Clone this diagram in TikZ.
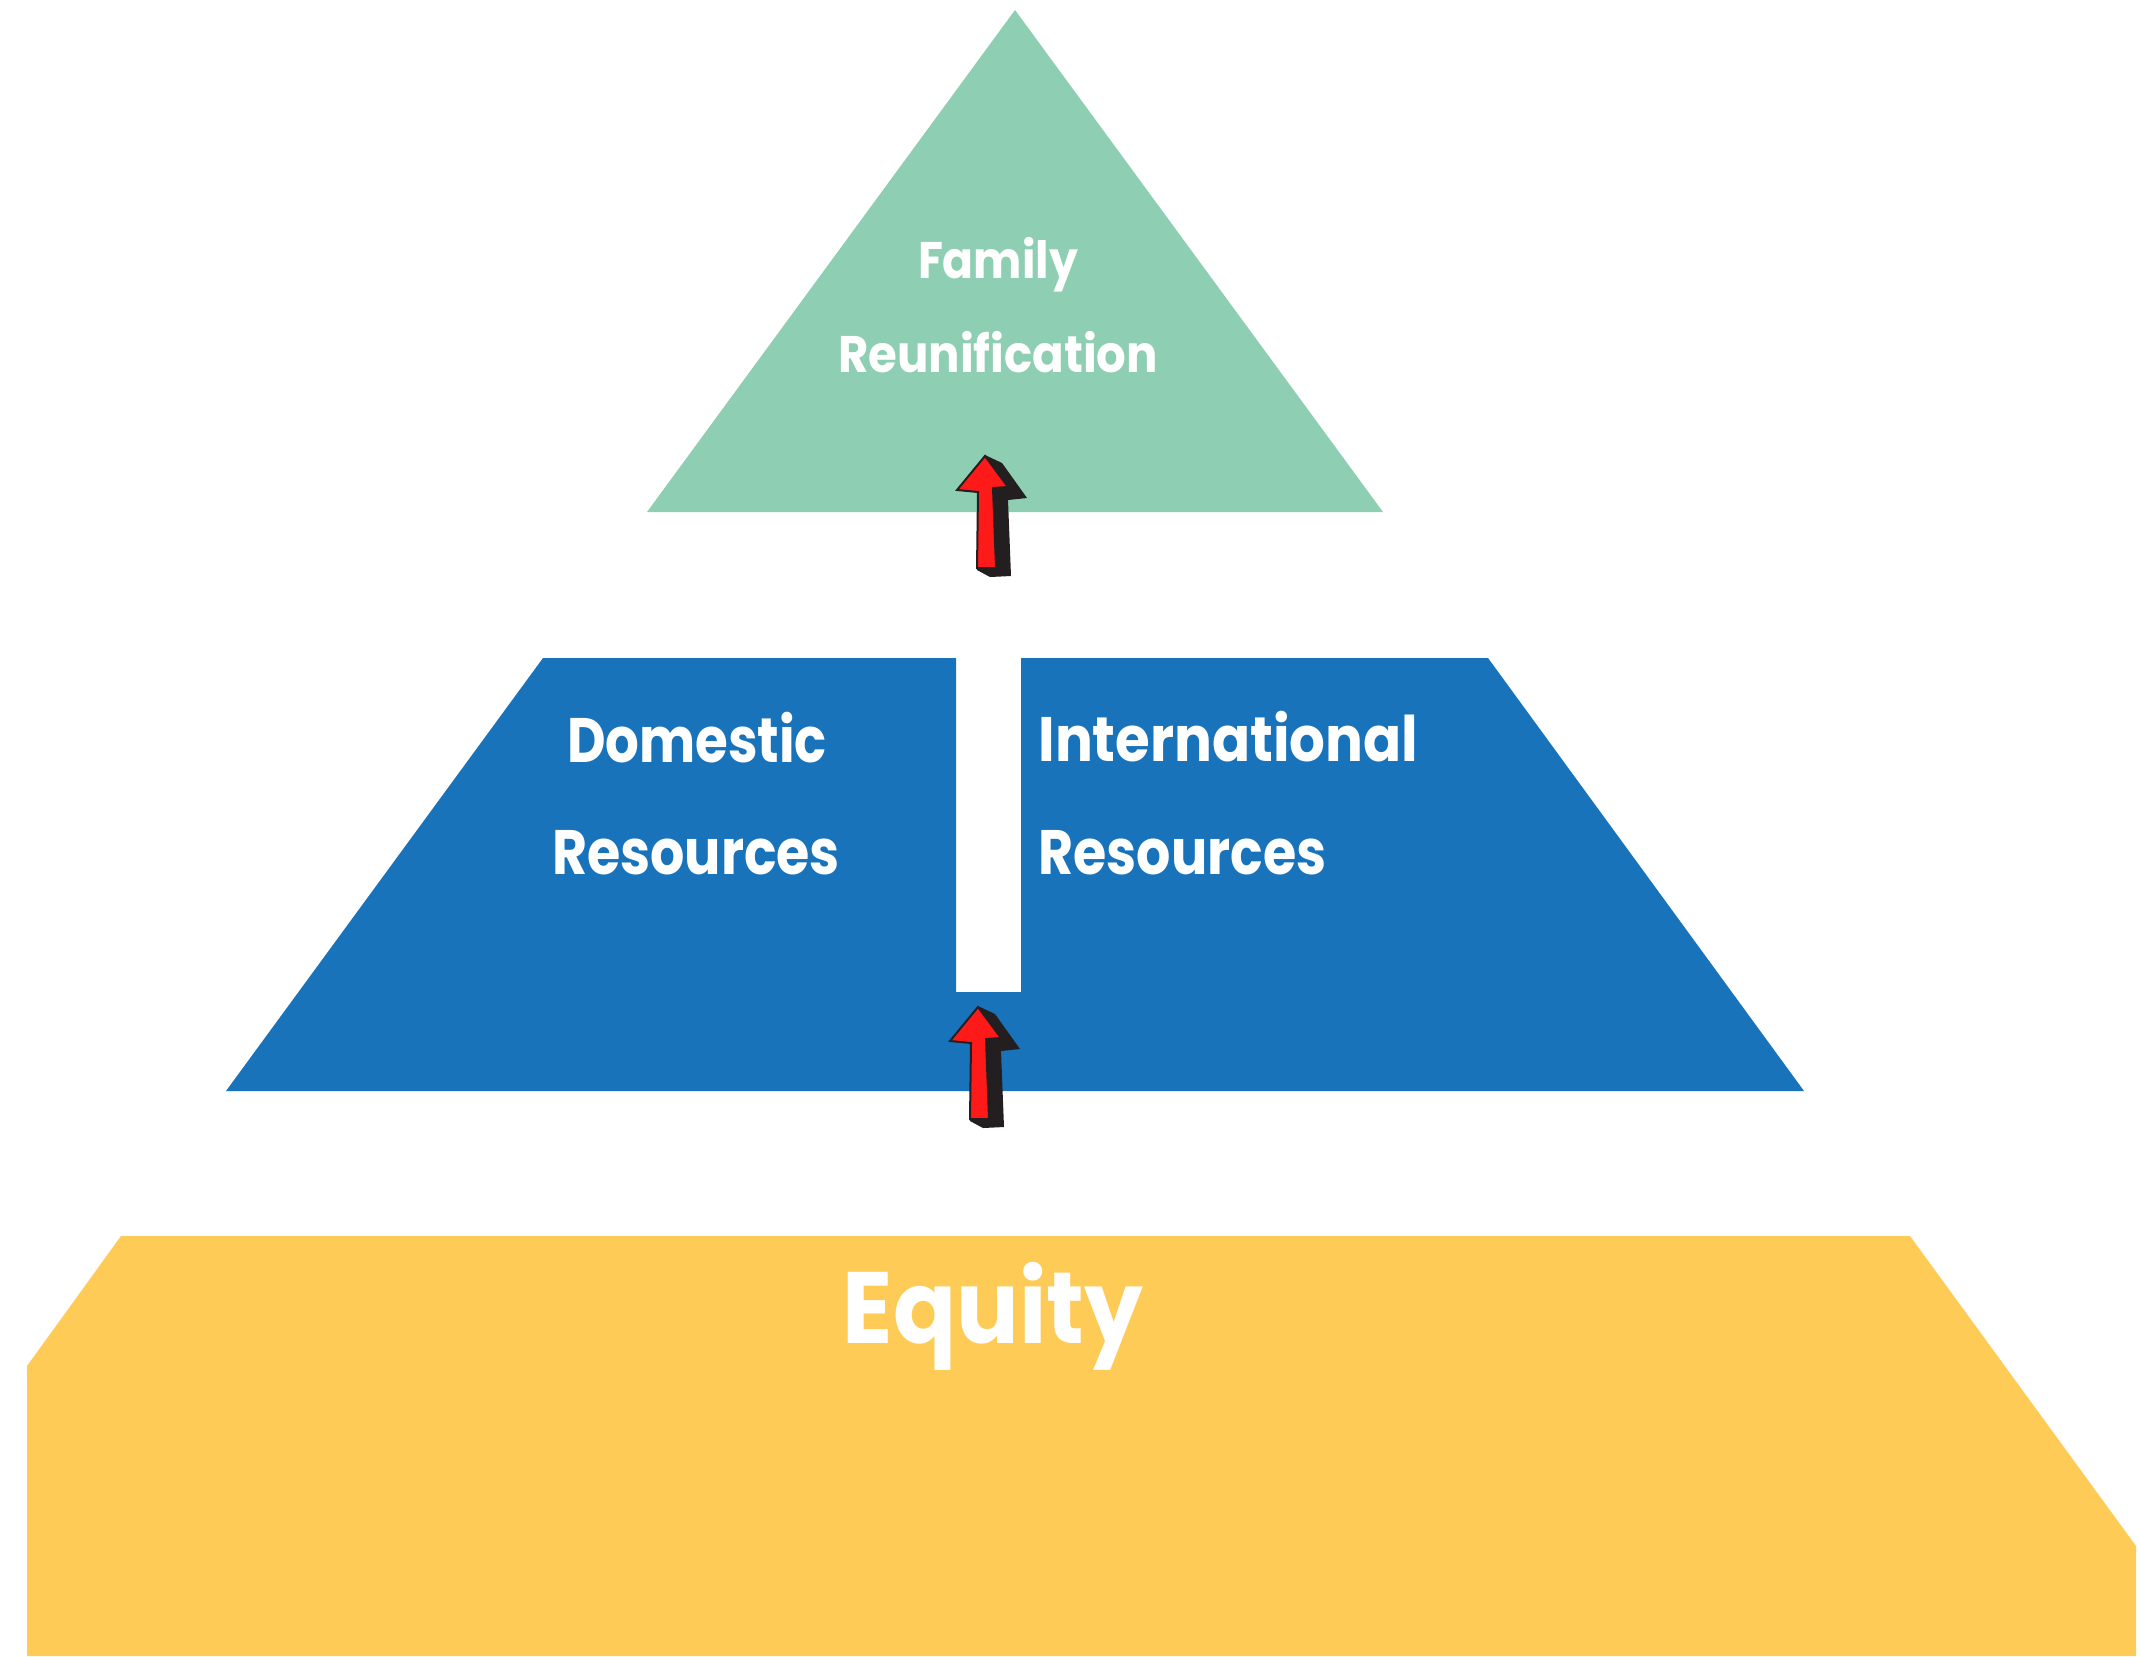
\documentclass[tikz,border=0pt]{standalone}
\usepackage{fontspec}
\setmainfont{Poppins}
\usepackage{graphicx}
\definecolor{pgreen}{HTML}{8ECEB2}
\definecolor{pblue}{HTML}{1873BB}
\definecolor{pyellow}{HTML}{FECC56}
\definecolor{ared}{HTML}{FF1A1A}
\definecolor{ablack}{HTML}{231F20}
\newcommand{\fitlbl}[3]{{\fontsize{#1}{#1}\selectfont\resizebox{#2}{\height}{#3}}}
\begin{document}
\begin{tikzpicture}[x=0.5pt,y=-0.5pt,
  lbl/.style={text=white, inner sep=0pt, font=\bfseries},
  uparrow/.pic={
    \fill[ablack] (-28,34) -- (0,-1) -- (17,7) -- (42,42) -- (23,44) -- (26,120) -- (5,121) -- (-8,114) -- (-7,36) -- cycle;
    \filldraw[fill=ared, draw=ablack, line width=1pt, line join=miter] (0,0) -- (23,31) -- (8,32) -- (11,112) -- (-8,112) -- (-7,36) -- (-28,34) -- cycle;
  }]
\useasboundingbox (0,0) rectangle (2140,1656);
\fill[white] (0,0) rectangle (2140,1656);
% tiers
\fill[pgreen] (1015,10) -- (1383,512) -- (647,512) -- cycle;
\fill[pblue] (543,658) -- (956,658) -- (956,992) -- (1021,992) -- (1021,658) -- (1488,658) -- (1804,1091) -- (226,1091) -- cycle;
\fill[pyellow] (121,1236) -- (1910,1236) -- (2136,1546) -- (2136,1656) -- (27,1656) -- (27,1366) -- cycle;
% labels
\node[lbl, anchor=base] (fam) at (998,278) {\fitlbl{25.7}{80pt}{Family}};
\node[lbl, anchor=base] (reu) at (998,372) {\fitlbl{25.7}{160pt}{Reunification}};
\node[lbl, anchor=base] (dom) at (697,762) {\fitlbl{31.4}{130pt}{Domestic}};
\node[lbl, anchor=base] (domr) at (696,874) {\fitlbl{31.4}{144pt}{Resources}};
\node[lbl, anchor=base west] (int) at (1038,761) {\fitlbl{31.4}{190pt}{International}};
\node[lbl, anchor=base west] (intr) at (1038,874) {\fitlbl{31.4}{144pt}{Resources}};
\node[lbl, anchor=base] (eq) at (993,1343) {\fitlbl{50.7}{150pt}{Equity}};
% arrows
\coordinate (tipA) at (985,456);
\coordinate (tipB) at (978,1007);
\pic at (tipA) {uparrow};
\pic at (tipB) {uparrow};
\end{tikzpicture}
\end{document}
